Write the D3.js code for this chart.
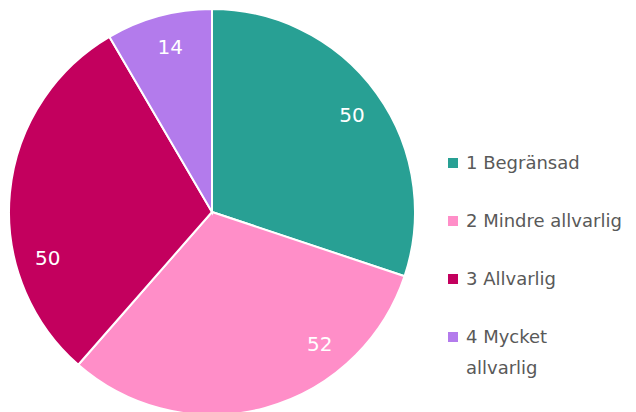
<!DOCTYPE html>
<html>
<head>
<meta charset="utf-8">
<script src="https://cdn.jsdelivr.net/npm/d3@7"></script>
<style>
  body { margin: 0; background: #fff; }
  svg text { font-family: "DejaVu Sans", sans-serif; }
</style>
</head>
<body>
<svg></svg>
<script>
// data
let categories = ['1 Begränsad', '2 Mindre allvarlig', '3 Allvarlig', '4 Mycket allvarlig']
let values = [50, 52, 50, 14]
let colors = ['#28a094', '#ff8ec8', '#c3005e', '#b37bec']

// label tweak (degrees off the slice middle), like the original's placement
let labelShift = [1, -24, -21, 1]

let width = 636
let height = 412
let cx = 212
let cy = 212
let radius = 203

let svg = d3.select('svg')
    .attr('width', width)
    .attr('height', height)

let pie = d3.pie().sort(null).value((d) => d)
let arcs = pie(values)

let arc = d3.arc().innerRadius(0).outerRadius(radius)

let g = svg.append('g')
    .attr('transform', 'translate(' + cx + ',' + cy + ')')

g.selectAll('path')
    .data(arcs)
    .enter()
    .append('path')
    .attr('d', arc)
    .attr('fill', (d, i) => colors[i])
    .attr('stroke', '#fff')
    .attr('stroke-width', 2)

let labelRadius = 0.84 * radius
g.selectAll('text.val')
    .data(arcs)
    .enter()
    .append('text')
    .attr('class', 'val')
    .attr('x', (d, i) => {
        let a = (d.startAngle + d.endAngle) / 2 + labelShift[i] * Math.PI / 180
        return labelRadius * Math.sin(a)
    })
    .attr('y', (d, i) => {
        let a = (d.startAngle + d.endAngle) / 2 + labelShift[i] * Math.PI / 180
        return -labelRadius * Math.cos(a)
    })
    .attr('dy', '0.35em')
    .attr('text-anchor', 'middle')
    .attr('fill', '#fff')
    .attr('font-size', 20)
    .text((d) => d.data)

// legend
let legendY = d3.scalePoint()
    .domain(categories)
    .range([163, 337])

let legend = svg.append('g')

let item = legend.selectAll('g')
    .data(categories)
    .enter()
    .append('g')
    .attr('transform', (d) => 'translate(448,' + legendY(d) + ')')

item.append('rect')
    .attr('x', 0)
    .attr('y', -5)
    .attr('width', 10)
    .attr('height', 10)
    .attr('fill', (d, i) => colors[i])

item.append('text')
    .attr('x', 18)
    .attr('y', 0)
    .attr('fill', '#595959')
    .attr('font-size', 18)
    .each(function(d) {
        let t = d3.select(this)
        let lines = d === '4 Mycket allvarlig' ? ['4 Mycket', 'allvarlig'] : [d]
        lines.forEach((l, k) => {
            t.append('tspan')
                .attr('x', 18)
                .attr('dy', k === 0 ? '0.35em' : 31)
                .text(l)
        })
    })
</script>
</body>
</html>
